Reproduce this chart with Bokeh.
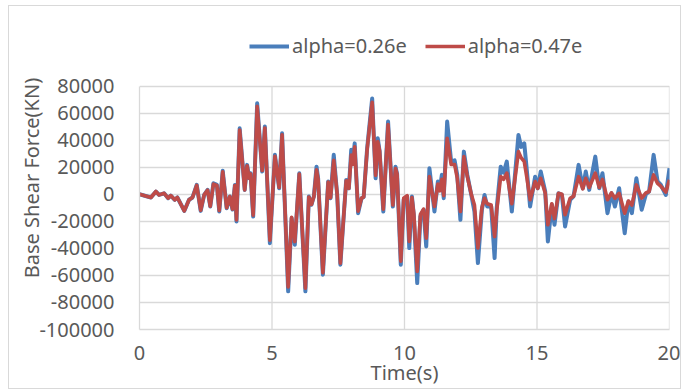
from bokeh.plotting import figure
from bokeh.models import Range1d, FixedTicker, NumeralTickFormatter, Legend, LegendItem
from bokeh.embed import file_html
from bokeh.resources import INLINE

# ---- data ----
time_s = [0.00, 0.43, 0.62, 0.74, 0.93, 1.08, 1.18, 1.33, 1.43, 1.69, 1.87, 2.00,
          2.16, 2.31, 2.44, 2.57, 2.67, 2.79, 2.92, 3.01, 3.14, 3.29, 3.41, 3.51,
          3.60, 3.66, 3.78, 3.97, 4.06, 4.14, 4.19, 4.29, 4.44, 4.63, 4.73, 4.92,
          5.11, 5.27, 5.38, 5.61, 5.74, 5.86, 6.03, 6.26, 6.39, 6.49, 6.58, 6.68,
          6.74, 6.92, 7.12, 7.21, 7.33, 7.46, 7.58, 7.80, 7.90, 7.99, 8.05, 8.12,
          8.25, 8.38, 8.46, 8.59, 8.78, 8.91, 8.99, 9.06, 9.20, 9.38, 9.56, 9.66,
          9.72, 9.86, 9.97, 10.10, 10.18, 10.28, 10.35, 10.48, 10.60, 10.72, 10.82,
          10.94, 11.13, 11.26, 11.33, 11.41, 11.48, 11.61, 11.76, 11.89, 11.99,
          12.11, 12.24, 12.37, 12.52, 12.64, 12.77, 12.92, 13.02, 13.12, 13.27,
          13.40, 13.48, 13.63, 13.74, 13.86, 14.05, 14.30, 14.40, 14.52, 14.62,
          14.74, 14.93, 15.03, 15.14, 15.31, 15.41, 15.56, 15.66, 15.81, 15.94,
          16.06, 16.25, 16.38, 16.57, 16.73, 16.84, 16.97, 17.20, 17.35, 17.47,
          17.66, 17.81, 17.94, 18.10, 18.31, 18.45, 18.58, 18.75, 18.95, 19.11,
          19.23, 19.40, 19.55, 19.67, 19.86, 20.00]

shear_026 = [0, -2400, 2000, -500, 700, -2900, -1000, -4100, -2400, -12300, -4100, -2400,
             6900, -12300, -500, 3200, -9100, 8100, 6900, -12800, 17300, -10300, -1700, -11300,
             6900, -20100, 48700, 3200, 21700, 11800, 15500, -16500, 67200, 16800, 50000, -36200,
             29100, 4400, 45000, -71800, -17700, -37400, 15500, -71800, -1700, -7800, -1700, 20400,
             11800, -59500, 9400, -2900, 29100, -500, -52100, 10600, 4400, 32800, 22900, 37600,
             -14000, -2900, -2000, 33900, 70800, 11800, 41300, 32000, -12800, 53700, -9100, 20400,
             15000, -52100, -4000, -1700, -39800, -1700, -15200, -65700, -16500, -11500, -38600,
             19200, -12800, 9400, 3200, 14300, -2900, 53700, 24100, 25000, 14300,
             -18900, 31500, 14300, -500, -12800, -50900, -11500, -500, -9000, -9000,
             -47200, -10300, 20400, 16000, 24100, -12800, 43800, 35000, 37600, 16800,
             -9100, 13000, 4400, 16800, 2000, -34900, -7800, -22600, 700, -500,
             -23800, -4100, -1500, 21700, 4400, 16800, 3200, 27800, 4400, 15500,
             -14000, 700, -9100, 4400, -28800, -5400, -14000, 11800, -11500, 0,
             2000, 29100, 9400, 7000, -500, 19200]

shear_047 = [0, -2400, 2000, -500, 700, -2900, -1000, -4100, -2400, -12300, -4100, -2400,
             6500, -11800, -500, 3000, -8800, 7500, 6500, -12000, 16500, -10000, -1700, -11000,
             6500, -19000, 47500, 3200, 21000, 11800, 15000, -15500, 65000, 17500, 49000, -34000,
             28000, 5000, 44000, -68500, -17000, -35000, 15000, -69500, -2000, -7500, -1700, 18000,
             11000, -58000, 9000, -2500, 25000, 0, -51000, 10000, 4400, 29000, 22000, 35000,
             -12500, -2900, -2000, 33000, 68000, 14000, 39000, 32000, -11000, 51500, -8000, 19000,
             15000, -49500, -3000, -1000, -34900, -2500, -14000, -57000, -15000, -11000, -32500,
             13000, -9000, 7500, 2500, 11000, -1000, 41400, 22000, 22000, 12000,
             -12800, 27800, 13000, 0, -8000, -39800, -10000, -3000, -7000, -8000,
             -31300, -12000, 13000, 11000, 15600, -7000, 31500, 27000, 24100, 12000,
             -4100, 9400, 4400, 11800, 1000, -22600, -7000, -18000, 700, 0,
             -15200, -3000, -1500, 13000, 4000, 11800, 5000, 15600, 5000, 11000,
             -4100, 1000, -3000, 700, -14000, -5000, -8000, 6900, -2900, 1000,
             2000, 14300, 8000, 6000, 1500, 10600]

series_labels = ["alpha=0.26e", "alpha=0.47e"]
x_ticks = [0, 5, 10, 15, 20]
y_ticks = [-100000, -80000, -60000, -40000, -20000, 0, 20000, 40000, 60000, 80000]
y_top_room = 124000   # extra headroom inside the frame for the legend

TEXT = "#595959"
GRID = "#D9D9D9"
FONT = "Noto Sans"

p = figure(width=673, height=384, output_backend="svg", toolbar_location=None,
           x_range=Range1d(x_ticks[0], x_ticks[-1]),
           y_range=Range1d(y_ticks[0], y_top_room))
p.margin = (5, 0, 0, 8)
p.styles = {"border": "1px solid #D9D9D9"}
p.min_border_left = 130
p.min_border_right = 13
p.min_border_top = 20
p.min_border_bottom = 61
p.outline_line_color = None
p.background_fill_color = "white"
p.border_fill_color = "white"

# vertical grid lines limited to the value range
p.segment(x0=x_ticks[1:], y0=[y_ticks[0]] * 4, x1=x_ticks[1:], y1=[y_ticks[-1]] * 4,
          line_color=GRID, line_width=1.3)

r1 = p.line(time_s, shear_026, line_color="#4A7EBB", line_width=4, line_join="round")
r2 = p.line(time_s, shear_047, line_color="#BE4B48", line_width=3.6, line_join="round")

p.xaxis.ticker = FixedTicker(ticks=x_ticks)
p.yaxis.ticker = FixedTicker(ticks=y_ticks)
p.yaxis.bounds = (y_ticks[0], y_ticks[-1])
p.yaxis.formatter = NumeralTickFormatter(format="0")
p.xgrid.visible = False
p.ygrid.ticker = FixedTicker(ticks=y_ticks)
p.ygrid.grid_line_color = GRID
p.ygrid.grid_line_width = 1.3

for ax in (p.xaxis, p.yaxis):
    ax.axis_line_color = GRID
    ax.axis_line_width = 1.3
    ax.major_tick_line_color = None
    ax.minor_tick_line_color = None
    ax.major_label_text_color = TEXT
    ax.major_label_text_font = FONT
    ax.major_label_text_font_size = "20px"
    ax.axis_label_text_color = TEXT
    ax.axis_label_text_font = FONT
    ax.axis_label_text_font_size = "20px"
    ax.axis_label_text_font_style = "normal"

p.xaxis.axis_label = "Time(s)"
p.yaxis.axis_label = "Base Shear Force(KN)"
p.xaxis.major_label_standoff = 10
p.yaxis.major_label_standoff = 19
p.xaxis.axis_label_standoff = -4
p.yaxis.axis_label_standoff = -9

legend = Legend(items=[LegendItem(label=series_labels[0], renderers=[r1]),
                       LegendItem(label=series_labels[1], renderers=[r2])],
                orientation="horizontal", location=(110, 270))
legend.label_text_font = FONT
legend.label_text_font_size = "20px"
legend.label_text_color = TEXT
legend.glyph_width = 40
legend.label_standoff = 3
legend.spacing = 18
legend.padding = 0
legend.margin = 0
legend.border_line_color = None
legend.background_fill_alpha = 0
p.add_layout(legend, "center")

open("out.html", "w").write(file_html(p, INLINE))
